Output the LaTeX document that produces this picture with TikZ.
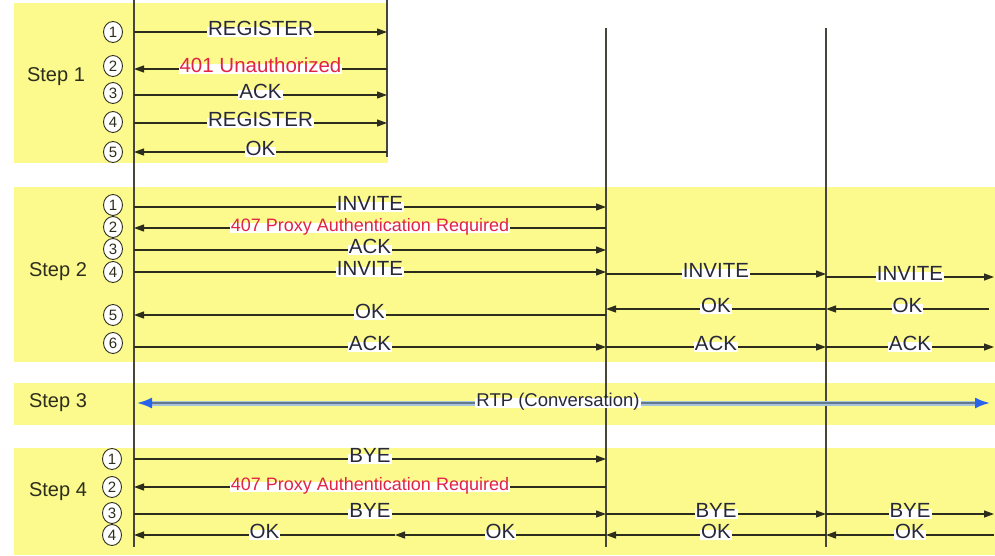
\documentclass[tikz,border=0pt]{standalone}
\usepackage{fontspec}
\setmainfont{Liberation Sans}
\usetikzlibrary{arrows.meta,shapes.geometric}
\definecolor{band}{RGB}{252,250,140}
\definecolor{ln}{RGB}{45,45,30}
\definecolor{vln}{RGB}{70,70,60}
\definecolor{txt}{RGB}{40,40,60}
\definecolor{redtxt}{RGB}{225,35,70}
\definecolor{rtpline}{RGB}{100,120,140}
\definecolor{rtpedge}{RGB}{165,195,220}
\definecolor{rtptip}{RGB}{40,100,235}
\newcommand\sipmsg[4][lbl]{\draw[msgline] (#2) -- node[#1]{#4} (#3);}
\begin{document}
\begin{tikzpicture}[x=1pt,y=-1pt,
  lifeline/.style={draw=vln, line width=1.2pt},
  msgline/.style={draw=ln, line width=1.2pt, -{Triangle[length=10pt,width=7pt]}},
  lbl/.style={fill=white, inner sep=1pt, text=txt, text height=0.68em, text depth=0.04em, font=\fontsize{20.5}{20.5}\selectfont},
  rlbl/.style={lbl, text=redtxt},
  srlbl/.style={rlbl, font=\fontsize{18}{18}\selectfont},
  steplbl/.style={text=ln, font=\fontsize{20}{20}\selectfont},
  num/.style={draw=ln, ellipse, fill=white, inner sep=0pt, minimum width=19pt, minimum height=21pt, line width=0.9pt, font=\fontsize{15}{15}\selectfont, text=ln},
]
\useasboundingbox (0,0) rectangle (995,555);
\fill[white] (0,0) rectangle (995,555);
% bands
\fill[band] (14,3) rectangle (388,163);
\fill[band] (14,187) rectangle (995,362);
\fill[band] (14,383) rectangle (995,425);
\fill[band] (14,448) rectangle (995,555);
% lifelines
\coordinate (A0) at (134,0); \coordinate (A1) at (134,547);
\coordinate (B0) at (387,0); \coordinate (B1) at (387,157);
\coordinate (C0) at (606,28); \coordinate (C1) at (606,547);
\coordinate (D0) at (826,28); \coordinate (D1) at (826,547);
\draw[lifeline] (A0) -- (A1);
\draw[lifeline] (B0) -- (B1);
\draw[lifeline] (C0) -- (C1);
\draw[lifeline] (D0) -- (D1);
% step labels
\node[steplbl] (st1) at (56,77) {Step 1};
\node[steplbl] (st2) at (58,272) {Step 2};
\node[steplbl] (st3) at (58,403) {Step 3};
\node[steplbl] (st4) at (58,492) {Step 4};
% circled numbers
\foreach \r/\y in {1/32,2/66,3/93,4/122,5/152} {\node[num] (n1-\r) at (113,\y) {\r};}
\foreach \r/\y in {1/205,2/227,3/249,4/272,5/315,6/343} {\node[num] (n2-\r) at (113,\y) {\r};}
\foreach \r/\y in {1/459,2/487,3/513,4/535} {\node[num] (n4-\r) at (112,\y) {\r};}
% step 1 coordinates
\foreach \r/\y in {1/32,2/69,3/95,4/123,5/152} {\coordinate (p1-\r-A) at (134,\y); \coordinate (p1-\r-B) at (387,\y);}
\sipmsg{p1-1-A}{p1-1-B}{REGISTER}
\sipmsg[rlbl]{p1-2-B}{p1-2-A}{401 Unauthorized}
\sipmsg{p1-3-A}{p1-3-B}{ACK}
\sipmsg{p1-4-A}{p1-4-B}{REGISTER}
\sipmsg{p1-5-B}{p1-5-A}{OK}
% step 2 coordinates
\foreach \r/\y in {1/207,2/228,3/250,4/272,5/315,6/347} {\coordinate (p2-\r-A) at (134,\y); \coordinate (p2-\r-C) at (606,\y);}
\coordinate (p2-4-C2) at (606,274); \coordinate (p2-4-D) at (826,274);
\coordinate (p2-4-D2) at (826,277); \coordinate (p2-4-E) at (994,277);
\coordinate (p2-5-C2) at (606,309); \coordinate (p2-5-D) at (826,309); \coordinate (p2-5-E) at (989,309);
\coordinate (p2-6-D) at (826,347); \coordinate (p2-6-E) at (994,347);
\sipmsg{p2-1-A}{p2-1-C}{INVITE}
\sipmsg[srlbl]{p2-2-C}{p2-2-A}{407 Proxy Authentication Required}
\sipmsg{p2-3-A}{p2-3-C}{ACK}
\sipmsg{p2-4-A}{p2-4-C}{INVITE}
\sipmsg{p2-4-C2}{p2-4-D}{INVITE}
\sipmsg{p2-4-D2}{p2-4-E}{INVITE}
\sipmsg{p2-5-C}{p2-5-A}{OK}
\sipmsg{p2-5-D}{p2-5-C2}{OK}
\sipmsg{p2-5-E}{p2-5-D}{OK}
\sipmsg{p2-6-A}{p2-6-C}{ACK}
\sipmsg{p2-6-C}{p2-6-D}{ACK}
\sipmsg{p2-6-D}{p2-6-E}{ACK}
% step 3
\coordinate (r1) at (137,403); \coordinate (r2) at (990,403);
\draw[rtpedge, line width=5pt, shorten <=12pt, shorten >=12pt] (r1) -- (r2);
\draw[rtpline, line width=2.2pt, {Latex[length=15pt,width=11pt,color=rtptip]}-{Latex[length=15pt,width=11pt,color=rtptip]}] (r1) -- node[lbl, pos=0.4936, font=\fontsize{18.5}{18.5}\selectfont] (rtp) {RTP (Conversation)} (r2);
% step 4
\foreach \r/\y in {1/459,2/487,3/514,4/535} {\coordinate (p4-\r-A) at (134,\y); \coordinate (p4-\r-C) at (606,\y);}
\coordinate (p4-3-D) at (826,514); \coordinate (p4-3-E) at (994,514);
\coordinate (p4-4-M) at (395,535); \coordinate (p4-4-D) at (826,535); \coordinate (p4-4-E) at (994,535);
\sipmsg{p4-1-A}{p4-1-C}{BYE}
\sipmsg[srlbl]{p4-2-C}{p4-2-A}{407 Proxy Authentication Required}
\sipmsg{p4-3-A}{p4-3-C}{BYE}
\sipmsg{p4-3-C}{p4-3-D}{BYE}
\sipmsg{p4-3-D}{p4-3-E}{BYE}
\sipmsg{p4-4-C}{p4-4-M}{OK}
\sipmsg{p4-4-M}{p4-4-A}{OK}
\sipmsg{p4-4-D}{p4-4-C}{OK}
\sipmsg{p4-4-E}{p4-4-D}{OK}
\end{tikzpicture}
\end{document}
